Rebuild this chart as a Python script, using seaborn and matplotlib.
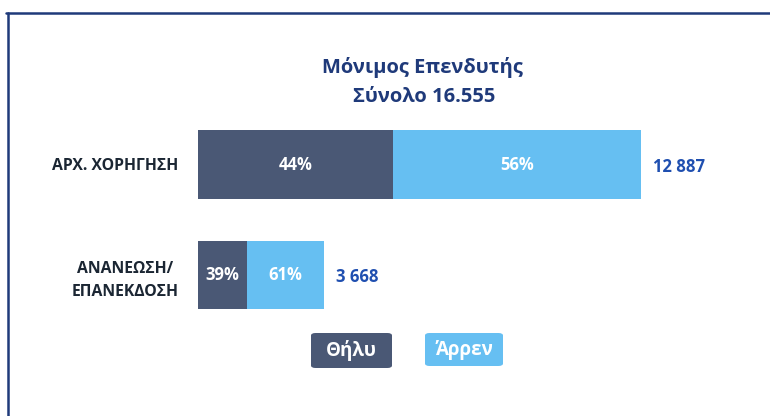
import matplotlib
matplotlib.use("Agg")
import matplotlib.pyplot as plt
import seaborn as sns
import pandas as pd
from matplotlib.patches import FancyBboxPatch
from matplotlib.lines import Line2D

categories = ["ΑΡΧ. ΧΟΡΗΓΗΣΗ", "ΑΝΑΝΕΩΣΗ/\nΕΠΑΝΕΚΔΟΣΗ"]
totals = [12887, 3668]
female_pct = [44, 39]
male_pct = [56, 61]
total_labels = ["12 887", "3 668"]
title_lines = ["Μόνιμος Επενδυτής", "Σύνολο 16.555"]
legend_labels = ["Θήλυ", "Άρρεν"]

DARK = "#4A5875"
LIGHT = "#66BFF2"
NAVY = "#1F3A7A"
VALBLUE = "#1F4FB0"
TXT = "#1B2633"

sns.set_theme(style="white")
plt.rcParams["font.family"] = ["Open Sans", "DejaVu Sans"]

df = pd.DataFrame({
    "cat": categories,
    "total": totals,
    "female": [t * p / 100 for t, p in zip(totals, female_pct)],
})

W, H = 770, 416
fig = plt.figure(figsize=(W / 100, H / 100), dpi=100)

def fx(px):
    return px / W

def fy(py):
    return 1 - py / H

# axes: x=0 at px 198, 0.034376 px/unit; y cats centered at 164.5 and 275
scale = 443 / 12887
xmax = 16000
left_px, right_px = 198, 198 + xmax * scale
top_px, bot_px = 164.5 - 55.25, 275 + 55.25
ax = fig.add_axes([fx(left_px), fy(bot_px), fx(right_px - left_px), (bot_px - top_px) / H])

sns.barplot(data=df, x="total", y="cat", color=LIGHT, width=0.62, ax=ax,
            saturation=1, edgecolor="none", orient="h")
sns.barplot(data=df, x="female", y="cat", color=DARK, width=0.62, ax=ax,
            saturation=1, edgecolor="none", orient="h")

ax.set_xlim(0, xmax)
ax.set_ylim(1.5, -0.5)
ax.set_xlabel("")
ax.set_ylabel("")
ax.set_xticks([])
for s in ax.spines.values():
    s.set_visible(False)
ax.tick_params(axis="y", length=0, pad=14)
ax.set_yticks(range(len(categories)))
ax.set_yticklabels(categories, fontsize=11.3, fontweight="bold", color=TXT,
                   multialignment="center", linespacing=1.6)

for i, (t, fp, mp) in enumerate(zip(totals, female_pct, male_pct)):
    f = t * fp / 100
    ax.text(f / 2, i, f"{fp}%", ha="center", va="center", color="white",
            fontsize=12, fontweight="bold")
    ax.text(f + (t - f) / 2, i, f"{mp}%", ha="center", va="center", color="white",
            fontsize=12, fontweight="bold")
    ax.text(t + 12 / scale, i + 0.02, total_labels[i], ha="left", va="center",
            color=VALBLUE, fontsize=12, fontweight="bold")

fig.text(fx(422), fy(67), title_lines[0], ha="center", va="center",
         color=NAVY, fontsize=14.5, fontweight="bold")
fig.text(fx(424), fy(97), title_lines[1], ha="center", va="center",
         color=NAVY, fontsize=14.5, fontweight="bold")

# legend boxes
for (x0, y0, x1, y1), lab, col in [((311, 333, 392, 368), legend_labels[0], DARK),
                                   ((425, 333, 503, 366), legend_labels[1], LIGHT)]:
    box = FancyBboxPatch((fx(x0), fy(y1)), fx(x1 - x0), (y1 - y0) / H,
                         boxstyle="round,pad=0,rounding_size=0.006",
                         transform=fig.transFigure, fc=col, ec="none")
    fig.add_artist(box)
    fig.text(fx((x0 + x1) / 2), fy((y0 + y1) / 2), lab, ha="center", va="center",
             color="white", fontsize=13.5, fontweight="bold")

# frame lines
fig.add_artist(Line2D([fx(6), 1], [fy(12.5), fy(12.5)], color=NAVY, lw=1.8,
                      transform=fig.transFigure))
fig.add_artist(Line2D([fx(7.5), fx(7.5)], [fy(12.5), 0], color=NAVY, lw=1.8,
                      transform=fig.transFigure))

fig.savefig("out.png", dpi=100)
